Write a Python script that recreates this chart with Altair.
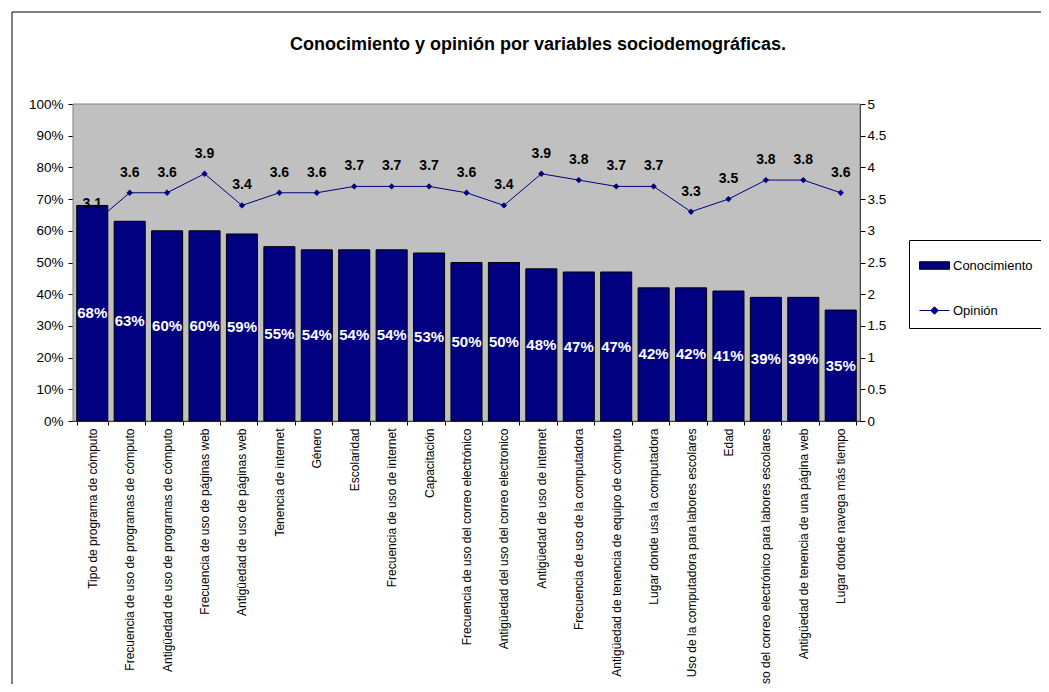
import altair as alt
import pandas as pd

categories = [
    "Tipo de programa de cómputo",
    "Frecuencia de uso de programas de cómputo",
    "Antigüedad de uso de programas de cómputo",
    "Frecuencia de uso de páginas web",
    "Antigüedad de uso de páginas web",
    "Tenencia de internet",
    "Género",
    "Escolaridad",
    "Frecuencia de uso de internet",
    "Capacitación",
    "Frecuencia de uso del correo electrónico",
    "Antigüedad del uso del correo electronico",
    "Antigüedad de uso de internet",
    "Frecuencia de uso de la computadora",
    "Antigüedad de tenencia de equipo de cómputo",
    "Lugar donde usa la computadora",
    "Uso de la computadora para labores escolares",
    "Edad",
    "Uso del correo electrónico para labores escolares",
    "Antigüedad de tenencia de una página web",
    "Lugar donde navega más tiempo",
]
conocimiento = [0.68, 0.63, 0.60, 0.60, 0.59, 0.55, 0.54, 0.54, 0.54, 0.53, 0.50,
                0.50, 0.48, 0.47, 0.47, 0.42, 0.42, 0.41, 0.39, 0.39, 0.35]
opinion = [3.1, 3.6, 3.6, 3.9, 3.4, 3.6, 3.6, 3.7, 3.7, 3.7, 3.6,
           3.4, 3.9, 3.8, 3.7, 3.7, 3.3, 3.5, 3.8, 3.8, 3.6]
series_names = ["Conocimiento", "Opinión"]
title_text = "Conocimiento y opinión por variables sociodemográficas."

FONT = "Liberation Sans, Arial, sans-serif"
NAVY = "#000080"
PLOT_W = 787
PLOT_H = 317

df = pd.DataFrame({
    "cat": categories,
    "conocimiento": conocimiento,
    "opinion": opinion,
    "series": "Conocimiento",
})
legend_df = pd.DataFrame({"series": series_names})

x_enc = alt.X(
    "cat:N",
    sort=None,
    scale=alt.Scale(domain=categories, paddingInner=0.17, paddingOuter=0.1),
    axis=alt.Axis(
        title=None, labelAngle=-90, labelAlign="right", labelBaseline="middle",
        labelFont=FONT, labelFontSize=12, labelColor="black", labelLimit=600,
        tickBand="extent", tickSize=4, labelPadding=3, domainColor="black",
        tickColor="black", grid=False,
    ),
)

y_left = alt.Scale(domain=[0, 1], nice=False, zero=True)
y_right = alt.Scale(domain=[0, 5], nice=False, zero=True)

base = alt.Chart(df)
one = pd.DataFrame({"a": [0]})

frame = alt.Chart(one).mark_rect(
    fill="white", fillOpacity=0, stroke="black", strokeWidth=1
).encode(
    x=alt.value(-61), x2=alt.value(1100), y=alt.value(-92), y2=alt.value(700)
)

plot_bg = alt.Chart(one).mark_rect(
    fill="#C0C0C0", stroke="#808080", strokeWidth=1
).encode(
    x=alt.value(0), x2=alt.value(PLOT_W), y=alt.value(0), y2=alt.value(PLOT_H)
)

title = alt.Chart(one).mark_text(
    font=FONT, fontSize=18, fontWeight="bold", color="black",
    align="center", baseline="alphabetic"
).encode(
    x=alt.value(465), y=alt.value(-54), text=alt.value(title_text)
)

line = base.mark_line(color=NAVY, strokeWidth=1).encode(
    x=x_enc,
    y=alt.Y("opinion:Q", scale=y_right,
            axis=alt.Axis(orient="right", title=None, values=[i * 0.5 for i in range(11)],
                          format="~g", labelFont=FONT, labelFontSize=13.5, labelColor="black",
                          domainColor="black", tickColor="black", tickSize=5,
                          labelPadding=2, grid=False)),
)
points = base.mark_point(shape="diamond", filled=True, size=40, color=NAVY, opacity=1).encode(
    x=x_enc,
    y=alt.Y("opinion:Q", scale=y_right, axis=None),
)

fill_scale = alt.Scale(domain=series_names, range=[NAVY, NAVY])
leg = alt.Legend(
    title=None, orient="none", legendX=836, legendY=136,
    strokeColor="black", fillColor="white", padding=10,
    symbolSize=900, symbolStrokeWidth=1, rowPadding=22,
    labelFont=FONT, labelFontSize=13, labelColor="black", labelOffset=3,
)

bars = base.mark_bar(stroke="black", strokeWidth=1).encode(
    x=x_enc,
    y=alt.Y("conocimiento:Q", scale=y_left,
            axis=alt.Axis(orient="left", title=None, values=[i / 10 for i in range(11)],
                          format=".0%", labelFont=FONT, labelFontSize=13.5, labelColor="black",
                          domainColor="black", tickColor="black", tickSize=5,
                          labelPadding=5, grid=False)),
    fill=alt.Fill("series:N", scale=fill_scale, legend=leg),
)

bar_text = base.transform_calculate(mid="datum.conocimiento / 2").mark_text(
    color="white", font=FONT, fontSize=15, fontWeight="bold", baseline="middle"
).encode(
    x=x_enc,
    y=alt.Y("mid:Q", scale=y_left, axis=None),
    text=alt.Text("conocimiento:Q", format=".0%"),
)

line_text = base.mark_text(
    color="black", font=FONT, fontSize=14, fontWeight="bold", baseline="middle", dy=-20
).encode(
    x=x_enc,
    y=alt.Y("opinion:Q", scale=y_right, axis=None),
    text=alt.Text("opinion:Q", format=".1f"),
)

shape_paths = [
    "M-1,-0.25H1V0.25H-1Z",
    "M-1,0H1M0,-0.25L0.25,0L0,0.25L-0.25,0Z",
]
legend_layer = alt.Chart(legend_df).transform_filter("false").mark_point(
    filled=True, opacity=1, strokeWidth=1
).encode(
    fill=alt.Fill("series:N", scale=fill_scale, legend=leg),
    stroke=alt.Stroke("series:N", scale=alt.Scale(domain=series_names, range=["black", NAVY]),
                      legend=leg),
    shape=alt.Shape("series:N", scale=alt.Scale(domain=series_names, range=shape_paths),
                    legend=leg),
)

chart = alt.layer(
    frame, plot_bg, title, line, points, bars, bar_text, line_text, legend_layer
).resolve_scale(
    y="independent"
).properties(
    width=PLOT_W,
    height=PLOT_H,
    background="white",
    padding={"left": 65, "top": 96, "right": 181, "bottom": 263},
    autosize=alt.AutoSizeParams(type="none"),
).configure_view(
    fill="#C0C0C0", stroke="#808080", strokeWidth=1
)

chart.save("out.html", embed_options={"renderer": "svg", "actions": False})
